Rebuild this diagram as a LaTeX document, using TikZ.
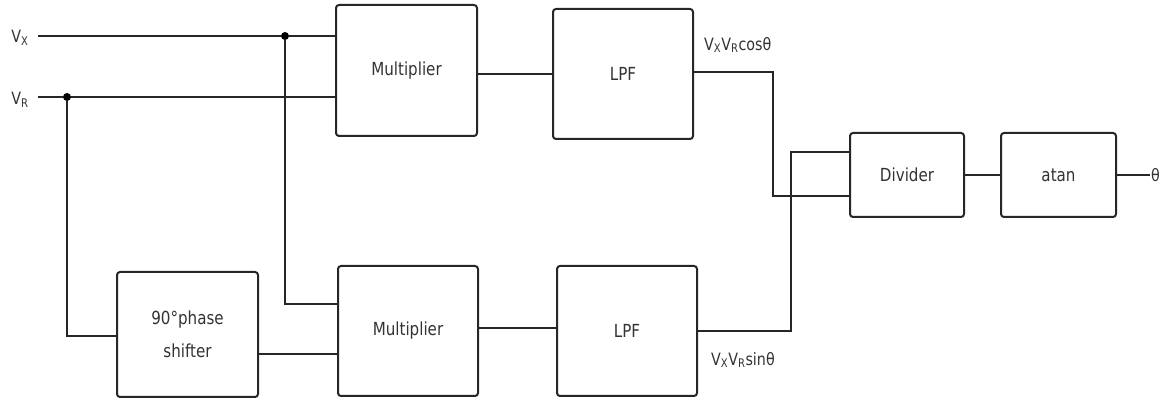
\documentclass[tikz,border=0pt]{standalone}
\usepackage{fontspec}
\setmainfont{DejaVu Sans}[FakeStretch=0.84]
\begin{document}
\begin{tikzpicture}[x=1pt,y=-1pt,
  blk/.style={draw=black!85, line width=2pt, rounded corners=3pt, fill=white, font=\fontsize{18}{33}\selectfont, text=black!80, align=center, inner sep=0pt},
  wire/.style={line width=2pt, draw=black!85},
  lbl/.style={font=\fontsize{17}{20}\selectfont, inner sep=0pt, text=black!80},
  dot/.style={circle, fill=black, inner sep=0pt, minimum size=8pt}]
\useasboundingbox (0,0) rectangle (1176,403);
% blocks
\node[blk, minimum width=141pt, minimum height=131pt] (mul1) at (406.5,70.5) {Multiplier};
\node[blk, minimum width=140pt, minimum height=130pt] (lpf1) at (623,74) {LPF};
\node[blk, minimum width=140pt, minimum height=130pt] (mul2) at (408,331) {Multiplier};
\node[blk, minimum width=140pt, minimum height=130pt] (lpf2) at (627,331) {LPF};
\node[blk, minimum width=141pt, minimum height=125pt] (ps) at (187.5,334.5) {90°phase\\shifter};
\node[blk, minimum width=114pt, minimum height=84pt] (div) at (907,175) {Divider};
\node[blk, minimum width=115pt, minimum height=84pt] (atan) at (1058.5,175) {atan};
% labels and coordinates
\node[lbl] (vx) at (20,38) {V\textsubscript{X}};
\node[lbl] (vr) at (20,100) {V\textsubscript{R}};
\coordinate (vxs) at (38,36);
\coordinate (vrs) at (38,97);
\node[dot] (j1) at (285,36) {};
\node[dot] (j2) at (67,97) {};
\node[lbl, anchor=west] (cosl) at (704,45) {V\textsubscript{X}V\textsubscript{R}cosθ};
\node[lbl, anchor=west] (sinl) at (711,360) {V\textsubscript{X}V\textsubscript{R}sinθ};
\coordinate (out) at (1150,175);
\node[lbl, anchor=west] (th) at (1151,175) {θ};
% wires
\draw[wire] (vxs) -- (j1) -- (j1 -| mul1.west);
\draw[wire] (vrs) -- (j2) -- (j2 -| mul1.west);
\draw[wire] (j1) |- (mul2.west |- 0,304);
\draw[wire] (j2) |- (ps.west |- 0,336);
\draw[wire] (ps.east |- 0,354) -- (mul2.west |- 0,354);
\draw[wire] (mul1.east |- 0,74) -- (lpf1.west |- 0,74);
\draw[wire] (mul2.east |- 0,328) -- (lpf2.west |- 0,328);
\draw[wire] (lpf1.east |- 0,72) -| (773,196) -- (div.west |- 0,196);
\draw[wire] (lpf2.east |- 0,331) -| (791,152) -- (div.west |- 0,152);
\draw[wire] (div.east) -- (atan.west);
\draw[wire] (atan.east) -- (out);
\end{tikzpicture}
\end{document}
